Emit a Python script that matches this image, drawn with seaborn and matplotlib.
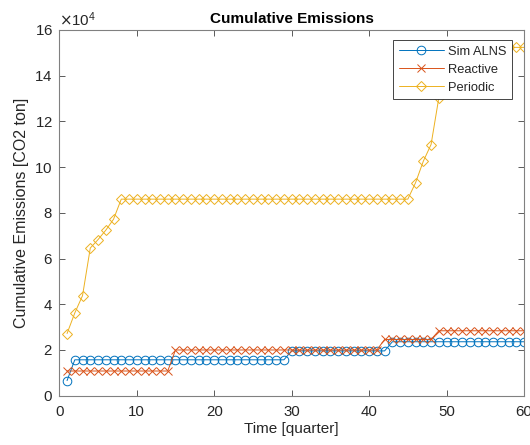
import matplotlib
matplotlib.use("Agg")
import matplotlib.pyplot as plt
import seaborn as sns
import pandas as pd
from matplotlib.ticker import ScalarFormatter

quarters = list(range(1, 61))
sim_alns = [6600] + [15700] * 28 + [19600] * 13 + [23600] * 18
reactive = [10800] * 14 + [20000] * 27 + [24600] * 7 + [28400] * 12
periodic = ([27200, 36200, 43800, 64600, 68300, 72400, 77200] + [86000] * 38
            + [93200, 102600, 109900, 130300, 142000] + [152400] * 10)
series_names = ["Sim ALNS", "Reactive", "Periodic"]
colors = ["#0072BD", "#D95319", "#EDB120"]
markers = ["o", "x", "D"]
msizes = [6.2, 5.5, 5.6]

sns.set_style("white")
plt.rcParams['font.family'] = ['Liberation Sans', 'DejaVu Sans']

fig = plt.figure(figsize=(5.30, 4.45), dpi=100)
ax = fig.add_axes([0.1119, 0.1108, 0.8768, 0.8218])

for name, vals, c, m, ms in zip(series_names, [sim_alns, reactive, periodic], colors, markers, msizes):
    df = pd.DataFrame({"t": quarters, "v": vals})
    sns.lineplot(data=df, x="t", y="v", ax=ax, color=c, marker=m, markersize=ms,
                 markerfacecolor="none", markeredgecolor=c, markeredgewidth=0.7,
                 linewidth=0.7, label=name)

ax.set_xlim(0, 60)
ax.set_ylim(0, 160000)
ax.set_xticks(range(0, 61, 10))
ax.set_yticks(range(0, 160001, 20000))
fmt = ScalarFormatter(useMathText=True)
fmt.set_powerlimits((4, 4))
ax.yaxis.set_major_formatter(fmt)

spine_c = "#262626"
for s in ax.spines.values():
    s.set_visible(True)
    s.set_color("#808080")
    s.set_linewidth(0.8)
ax.tick_params(direction="in", length=4, width=0.6, color="#404040",
               labelsize=10.8, labelcolor=spine_c, top=True, right=True,
               bottom=True, left=True)
ax.tick_params(axis="x", pad=6.5)
ax.tick_params(axis="y", pad=4.8)
ax.yaxis.get_offset_text().set_fontsize(10.8)
ax.yaxis.get_offset_text().set_color(spine_c)

ax.set_title("Cumulative Emissions", fontsize=11, fontweight="bold", color="black", pad=5)
ax.set_xlabel("Time [quarter]", fontsize=11, color=spine_c, labelpad=2.5)
ax.set_ylabel("Cumulative Emissions [CO2 ton]", fontsize=11.5, color=spine_c, labelpad=4)

leg = ax.legend(loc="upper right", bbox_to_anchor=(0.9752, 0.9727), borderaxespad=0,
                fancybox=False, framealpha=1, edgecolor="#262626", fontsize=9.3,
                handlelength=3.5, handletextpad=0.33, labelspacing=0.45,
                borderpad=0.45)
leg.get_frame().set_linewidth(0.6)

fig.savefig("out.png", dpi=100)
